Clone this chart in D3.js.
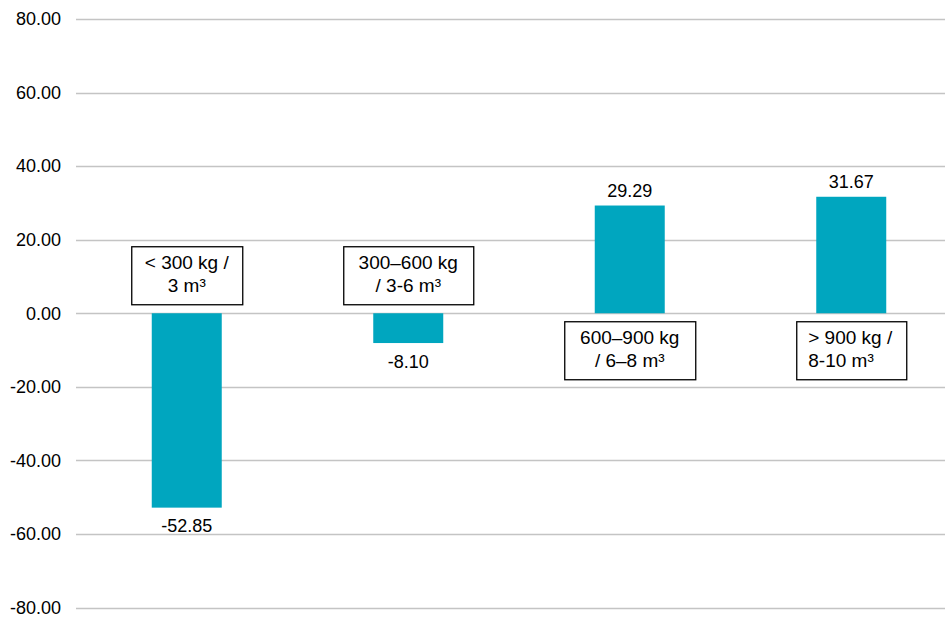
<!DOCTYPE html>
<html>
<head>
<meta charset="utf-8">
<script src="https://cdn.jsdelivr.net/npm/d3@7"></script>
<style>
  html, body { margin: 0; padding: 0; background: #fff; }
  svg { display: block; font-family: "Liberation Sans", Arial, sans-serif; }
</style>
</head>
<body>
<svg id="chart" width="950" height="619"></svg>
<script>
// Weight / volume classes and their values
const categories = ["c1", "c2", "c3", "c4"];
const categoryLines = [
  ["< 300 kg /", "3 m³"],
  ["300–600 kg", "/ 3-6 m³"],
  ["600–900 kg", "/ 6–8 m³"],
  ["> 900 kg /", "8-10 m³"]
];
const categoryAlign = ["middle", "middle", "middle", "start"];
const values = [-52.85, -8.10, 29.29, 31.67];
const yTicks = [-80, -60, -40, -20, 0, 20, 40, 60, 80];

const svg = d3.select("#chart");
const gridLeft = 76, gridRight = 945;

// plain hyphen for negative numbers
const fmt = v => d3.format(".2f")(v).replace("\u2212", "-");

const y = d3.scaleLinear().domain([-80, 80]).range([607.5, 19]);
const x = d3.scaleBand().domain(categories).range([76, 962]).paddingInner(0.684).paddingOuter(0.342);

// horizontal gridlines
svg.append("g")
  .selectAll("line")
  .data(yTicks)
  .join("line")
  .attr("x1", gridLeft).attr("x2", gridRight)
  .attr("y1", d => Math.round(y(d)) + 0.5).attr("y2", d => Math.round(y(d)) + 0.5)
  .attr("stroke", "#c4c4c4").attr("stroke-width", 1.5);

// y axis tick labels
svg.append("g")
  .selectAll("text")
  .data(yTicks)
  .join("text")
  .attr("x", 61).attr("y", d => y(d))
  .attr("dy", "0.35em")
  .attr("text-anchor", "end")
  .attr("font-size", 18)
  .attr("fill", "#000")
  .text(fmt);

// bars
svg.append("g")
  .selectAll("rect")
  .data(values)
  .join("rect")
  .attr("x", (d, i) => x(categories[i]))
  .attr("width", x.bandwidth())
  .attr("y", d => y(Math.max(0, d)))
  .attr("height", d => Math.abs(y(d) - y(0)))
  .attr("fill", "#00a6bf");

// value labels
svg.append("g")
  .selectAll("text")
  .data(values)
  .join("text")
  .attr("x", (d, i) => x(categories[i]) + x.bandwidth() / 2)
  .attr("y", d => d >= 0 ? y(d) - 9 : y(d) + 24.5)
  .attr("text-anchor", "middle")
  .attr("font-size", 18)
  .attr("fill", "#000")
  .text(fmt);

// category label boxes, placed on the opposite side of the zero line
const boxW = [111, 130, 131, 110];
const boxH = 58;
const labels = svg.append("g")
  .selectAll("g")
  .data(values)
  .join("g")
  .attr("transform", (d, i) => {
    const cx = x(categories[i]) + x.bandwidth() / 2;
    const top = d < 0 ? y(0) - 9 - boxH : y(0) + 8;
    return `translate(${cx},${top})`;
  });

labels.append("rect")
  .attr("x", (d, i) => -boxW[i] / 2 + 0.5)
  .attr("y", 0.5)
  .attr("width", (d, i) => boxW[i])
  .attr("height", boxH)
  .attr("fill", "#fff")
  .attr("stroke", "#000")
  .attr("stroke-width", 1.3);

labels.each(function(d, i) {
  const g = d3.select(this);
  const align = categoryAlign[i];
  const tx = align === "start" ? -boxW[i] / 2 + 12 : 0;
  categoryLines[i].forEach((line, k) => {
    g.append("text")
      .attr("x", tx)
      .attr("y", 23 + k * 23)
      .attr("text-anchor", align)
      .attr("font-size", 19)
      .attr("fill", "#000")
      .text(line);
  });
});
</script>
</body>
</html>
